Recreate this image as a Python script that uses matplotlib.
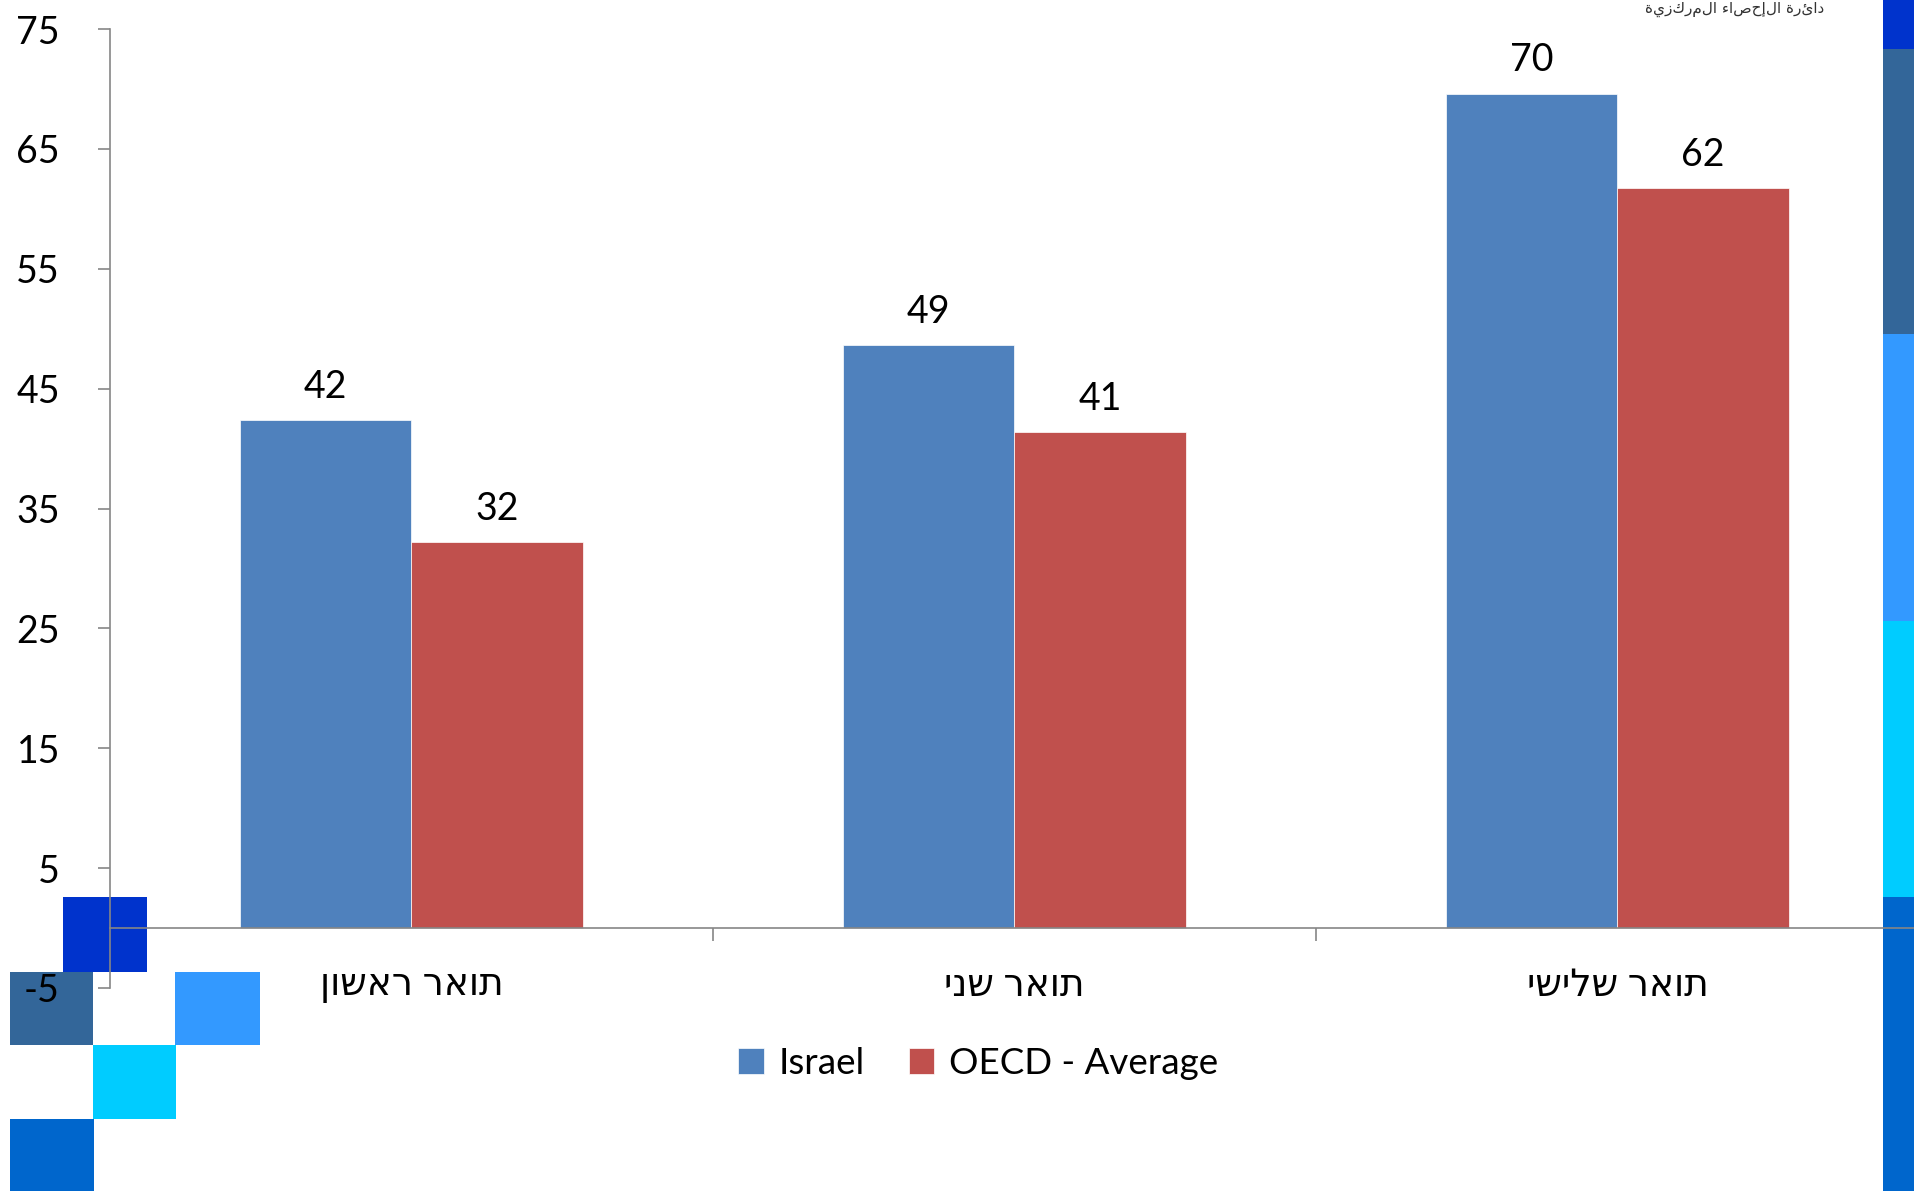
import matplotlib

matplotlib.use("Agg")

import matplotlib.pyplot as plt
from matplotlib.patches import Rectangle
import numpy as np

# ==================================================
# DATA
# ==================================================

categories = ["תואר ראשון", "תואר שני", "תואר שלישי"]
israel = [42.4, 48.6, 69.6]
oecd = [32.2, 41.4, 61.7]
series_names = ["Israel", "OECD - Average"]
y_ticks = [-5, 5, 15, 25, 35, 45, 55, 65, 75]
logo_text = "دائرة الإحصاء المركزية"

# ==================================================
# STYLE
# ==================================================

plt.rcParams["font.family"] = ["Lato", "DejaVu Sans"]

W, H = 1914, 1191
BLUE = "#4F81BD"
RED = "#C0504D"
GRAY = "#868686"
FS = 27


def rtl(s):
    # matplotlib has no bidi support: flip Hebrew for visual order
    return s[::-1]


fig = plt.figure(figsize=(W / 100, H / 100), dpi=100)

# decorative squares (pixel boxes, drawn behind the axes)
deco = [
    (63, 897, 147, 972, "#0033CC"),
    (10, 972, 93, 1045, "#336699"),
    (175, 972, 260, 1045, "#3399FF"),
    (93, 1045, 176, 1119, "#00CCFF"),
    (10, 1119, 94, 1191, "#0066CC"),
    (1883, 0, 1914, 49, "#0033CC"),
    (1883, 49, 1914, 334, "#336699"),
    (1883, 334, 1914, 621, "#3399FF"),
    (1883, 621, 1914, 897, "#00CCFF"),
    (1883, 897, 1914, 1191, "#0066CC"),
]
for x0, y0, x1, y1, c in deco:
    fig.patches.append(
        Rectangle(
            (x0 / W, 1 - y1 / H),
            (x1 - x0) / W,
            (y1 - y0) / H,
            transform=fig.transFigure,
            facecolor=c,
            edgecolor="none",
            zorder=-1,
        )
    )

fig.text(
    1735 / W,
    1 - 2 / H,
    logo_text[::-1],
    ha="center",
    va="top",
    fontsize=11,
    color="#333333",
    family="DejaVu Sans",
)

# ==================================================
# AXES
# ==================================================

ax = fig.add_axes([110 / W, 1 - 988 / H, 1809 / W, 959 / H])
ax.set_facecolor("none")

x = np.arange(len(categories))
bw = 0.284

b1 = ax.bar(x - bw / 2, israel, bw, color=BLUE, edgecolor="white",
            linewidth=0.5, label=series_names[0])
b2 = ax.bar(x + bw / 2, oecd, bw, color=RED, edgecolor="white",
            linewidth=0.5, label=series_names[1])

for bars, vals in [(b1, israel), (b2, oecd)]:
    for rect, v in zip(bars, vals):
        ax.annotate(
            f"{v:.0f}",
            (rect.get_x() + rect.get_width() / 2, v),
            xytext=(0, 11),
            textcoords="offset points",
            ha="center",
            va="bottom",
            fontsize=FS,
        )

ax.set_xlim(-0.5, 2.5)
ax.set_ylim(-5, 75)
ax.set_yticks(y_ticks)
ax.set_yticklabels([str(t) for t in y_ticks], fontsize=FS)

ax.spines["top"].set_visible(False)
ax.spines["right"].set_visible(False)
ax.spines["left"].set_color(GRAY)
ax.spines["bottom"].set_color(GRAY)
ax.spines["left"].set_linewidth(1.2)
ax.spines["bottom"].set_linewidth(1.2)
ax.spines["bottom"].set_position(("data", 0))

ax.tick_params(axis="y", direction="out", length=9, width=1.2,
               color=GRAY, pad=27)

# category boundaries as minor ticks, names as major labels
ax.set_xticks(x)
ax.set_xticklabels([rtl(c) for c in categories], fontsize=FS)
ax.tick_params(axis="x", which="major", length=0, pad=28)
ax.set_xticks([0.5, 1.5], minor=True)
ax.tick_params(axis="x", which="minor", direction="out", length=9,
               width=1.2, color=GRAY)

fig.legend(
    handles=[b1, b2],
    labels=series_names,
    loc="center",
    bbox_to_anchor=(978 / W, 1 - 1063 / H),
    ncol=2,
    frameon=False,
    fontsize=26.5,
    handlelength=0.7,
    handleheight=0.7,
    handletextpad=0.4,
    columnspacing=1.2,
)

fig.savefig("out.png", dpi=100)
plt.close(fig)
